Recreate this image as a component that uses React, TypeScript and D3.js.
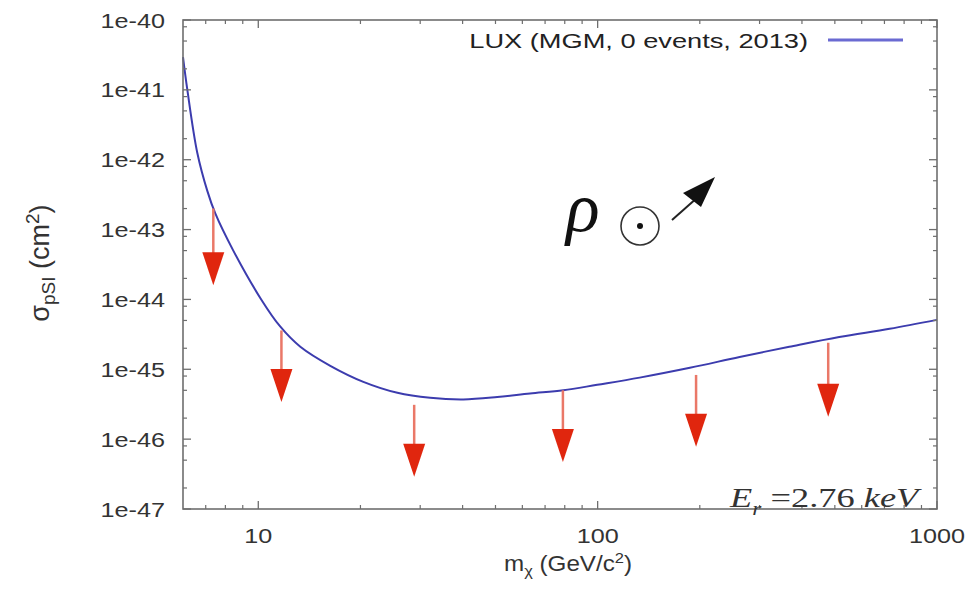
import React from "react";
import * as d3 from "d3";

// LUX limit curve (GeV/c^2, cm^2)
const curveMass = [6.0, 6.18, 6.61, 7.08, 7.47, 8.44, 10.2, 11.6, 13.3, 16.3, 20.4, 25.7, 32.1, 40.2, 50.6, 63.2, 79.2, 99.7, 133, 187, 262, 367, 515, 725, 1000];
const curveSigma = [2.95e-41, 1.0e-41, 1.26e-42, 3.55e-43, 1.7e-43, 5.0e-44, 1.0e-44, 4.1e-45, 2.1e-45, 1.12e-45, 6.6e-46, 4.6e-46, 3.9e-46, 3.7e-46, 4.0e-46, 4.5e-46, 5.0e-46, 6.0e-46, 7.6e-46, 1.05e-45, 1.5e-45, 2.1e-45, 2.9e-45, 3.8e-45, 5.1e-45];

// red arrows: mass, start and tip of each arrow
const arrowMass = [7.37, 11.7, 28.8, 79, 195, 478];
const arrowTop = [2.0e-43, 3.6e-45, 3.1e-46, 5.0e-46, 8.3e-46, 2.4e-45];
const arrowTip = [1.6e-44, 3.4e-46, 2.9e-47, 4.7e-47, 7.8e-47, 2.1e-46];

const yTicks = [1e-40, 1e-41, 1e-42, 1e-43, 1e-44, 1e-45, 1e-46, 1e-47];
const yTickLabels = ["1e-40", "1e-41", "1e-42", "1e-43", "1e-44", "1e-45", "1e-46", "1e-47"];
const xTicks = [10, 100, 1000];
const xTickLabels = ["10", "100", "1000"];
const legendLabel = "LUX (MGM, 0 events, 2013)";

const width = 975;
const height = 591;
const margin = { top: 20, right: 38, bottom: 82, left: 183 };
const SX = 1.2; // the picture is stretched sideways
const sans = "'Liberation Sans', Arial, sans-serif";
const serif = "'Liberation Serif', 'Times New Roman', serif";
const frameColor = "#6e6e6e";

const App = () => {
  const x = d3.scaleLog().domain([6, 1000]).range([margin.left, width - margin.right]);
  const y = d3.scaleLog().domain([1e-47, 1e-40]).range([height - margin.bottom, margin.top]);

  const line = d3
    .line<number>()
    .x((d, i) => x(curveMass[i]))
    .y(d => y(d))
    .curve(d3.curveCatmullRom.alpha(0.5));

  const [x0, x1] = x.range();
  const [y0, y1] = y.range();

  // minor ticks
  const xMinor: number[] = [];
  [1, 10, 100].forEach(dec => {
    for (let k = 2; k <= 9; k++) {
      const v = dec * k;
      if (v > 6 && v < 1000) xMinor.push(v);
    }
  });
  const yMinor: number[] = [];
  for (let e = -47; e < -40; e++) {
    [2, 5, 8].forEach(k => yMinor.push(k * Math.pow(10, e)));
  }

  const headH = 33;
  const headW = 22;

  return (
    <div style={{ position: "absolute", left: 0, top: 0 }}>
      <svg width={width} height={height} style={{ display: "block", background: "white" }}>
        {/* curve */}
        <path d={line(curveSigma) || ""} fill="none" stroke="#3c3cae" strokeWidth={2} />

        {/* arrows */}
        {arrowMass.map((m, i) => {
          const ax = x(m);
          const top = y(arrowTop[i]);
          const tip = y(arrowTip[i]);
          const base = tip - headH;
          return (
            <g key={i}>
              <line x1={ax} x2={ax} y1={top} y2={base + 2} stroke="#ea7868" strokeWidth={2.5} />
              <polygon
                points={`${ax - headW / 2},${base} ${ax + headW / 2},${base} ${ax},${tip}`}
                fill="#e0260e"
              />
            </g>
          );
        })}

        {/* frame */}
        <rect x={x0} y={y1} width={x1 - x0} height={y0 - y1} fill="none" stroke={frameColor} strokeWidth={1.6} />

        {/* x ticks */}
        {xTicks.map((t, i) => (
          <g key={"xt" + i}>
            <line x1={x(t)} x2={x(t)} y1={y0} y2={y0 - 8} stroke={frameColor} strokeWidth={1.3} />
            <line x1={x(t)} x2={x(t)} y1={y1} y2={y1 + 8} stroke={frameColor} strokeWidth={1.3} />
            <text
              transform={`translate(${x(t)},${y0 + 34}) scale(${SX},1)`}
              textAnchor="middle"
              fontFamily={sans}
              fontSize={21}
              fill="#333"
            >
              {xTickLabels[i]}
            </text>
          </g>
        ))}
        {xMinor.map((t, i) => (
          <g key={"xm" + i}>
            <line x1={x(t)} x2={x(t)} y1={y0} y2={y0 - 4} stroke={frameColor} strokeWidth={1.2} />
            <line x1={x(t)} x2={x(t)} y1={y1} y2={y1 + 4} stroke={frameColor} strokeWidth={1.2} />
          </g>
        ))}

        {/* y ticks */}
        {yTicks.map((t, i) => (
          <g key={"yt" + i}>
            <line x1={x0} x2={x0 + 8} y1={y(t)} y2={y(t)} stroke={frameColor} strokeWidth={1.3} />
            <line x1={x1} x2={x1 - 8} y1={y(t)} y2={y(t)} stroke={frameColor} strokeWidth={1.3} />
            <text
              transform={`translate(${x0 - 18},${y(t) + 7.5}) scale(${SX},1)`}
              textAnchor="end"
              fontFamily={sans}
              fontSize={21}
              fill="#333"
            >
              {yTickLabels[i]}
            </text>
          </g>
        ))}
        {yMinor.map((t, i) => (
          <g key={"ym" + i}>
            <line x1={x0} x2={x0 + 4} y1={y(t)} y2={y(t)} stroke={frameColor} strokeWidth={1.2} />
            <line x1={x1} x2={x1 - 4} y1={y(t)} y2={y(t)} stroke={frameColor} strokeWidth={1.2} />
          </g>
        ))}

        {/* axis titles */}
        <text
          transform={`translate(568,571) scale(1.1,1)`}
          textAnchor="middle"
          fontFamily={sans}
          fontSize={22}
          fill="#333"
        >
          m<tspan dy={5} fontSize={15}>χ</tspan>
          <tspan dy={-5}> (GeV/c</tspan>
          <tspan dy={-8} fontSize={15}>2</tspan>
          <tspan dy={8}>)</tspan>
        </text>
        <text
          transform={`translate(49,263) rotate(-90)`}
          textAnchor="middle"
          fontFamily={sans}
          fontSize={27}
          fill="#333"
        >
          σ<tspan dy={6} fontSize={19}>pSI</tspan>
          <tspan dy={-6}> (cm</tspan>
          <tspan dy={-10} fontSize={19}>2</tspan>
          <tspan dy={10}>)</tspan>
        </text>

        {/* legend */}
        <text
          transform={`translate(808,48) scale(${SX * 1.08},1)`}
          textAnchor="end"
          fontFamily={sans}
          fontSize={21}
          fill="#222"
        >
          {legendLabel}
        </text>
        <line x1={828} x2={903} y1={40} y2={40} stroke="#6a6ad2" strokeWidth={3} />

        {/* rho_sun with arrow */}
        <text x={566} y={231} fontFamily={serif} fontStyle="italic" fontSize={70} fill="#111">ρ</text>
        <circle cx={640} cy={226} r={19} fill="none" stroke="#333" strokeWidth={1.6} />
        <circle cx={640} cy={226} r={3} fill="#111" />
        <line x1={672} y1={220} x2={698} y2={197} stroke="#222" strokeWidth={2} />
        <polygon points="715,177 683,193 701,207" fill="#111" />

        {/* recoil energy threshold */}
        <text transform="translate(730,507) scale(1.3,1)" fontFamily={serif} fontSize={28} fill="#333">
          <tspan fontStyle="italic">E</tspan>
          <tspan dy={8} fontSize={18} fontStyle="italic">r</tspan>
          <tspan dy={-8}> =2.76 </tspan>
          <tspan fontStyle="italic">keV</tspan>
        </text>
      </svg>
    </div>
  );
};

export default App;
